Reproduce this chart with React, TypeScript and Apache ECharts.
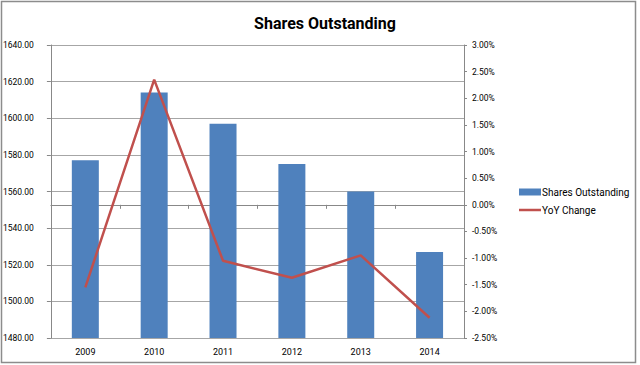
import React, { useEffect, useRef } from "react";
import * as echarts from "echarts";

const categories = ["2009", "2010", "2011", "2012", "2013", "2014"];
const sharesOutstanding = [1577, 1614, 1597, 1575, 1560, 1527];
const yoyChange = [-1.55, 2.35, -1.05, -1.37, -0.95, -2.12];

export default function App() {
  const ref = useRef<HTMLDivElement>(null);
  useEffect(() => {
    const chart = echarts.init(ref.current!, null, { renderer: "svg" });
    const font = "Roboto";
    chart.setOption({
      animation: false,
      backgroundColor: "#ffffff",
      textStyle: { fontFamily: font },
      title: {
        text: "Shares Outstanding",
        left: 320,
        top: 10,
        textAlign: "center",
        textStyle: { fontFamily: font, fontSize: 16, fontWeight: "bold", color: "#000000" },
      },
      graphic: [
        {
          type: "rect",
          shape: { x: 1.5, y: 1.5, width: 634, height: 361 },
          style: { fill: "none", stroke: "#8c8c8c", lineWidth: 1.5 },
          silent: true,
        },
      ],
      legend: {
        orient: "vertical",
        left: 514,
        top: 182,
        itemGap: 8,
        itemWidth: 22,
        itemHeight: 7,
        textStyle: { fontFamily: font, fontSize: 10, color: "#000000", padding: [0, 0, 0, -4] },
        data: [
          { name: "Shares Outstanding", icon: "rect" },
          { name: "YoY Change", icon: "path://M0,0L22,0L22,2.5L0,2.5Z", itemStyle: { color: "#c0504d" } },
        ],
      },
      grid: { left: 50, right: 176, top: 45, bottom: 27, containLabel: false },
      xAxis: {
        type: "category",
        data: categories,
        axisLine: { lineStyle: { color: "#888888" } },
        axisTick: { show: true, length: 4, alignWithLabel: false, lineStyle: { color: "#888888" } },
        axisLabel: { color: "#000000", fontSize: 9, margin: 9, fontFamily: font },
      },
      yAxis: [
        {
          type: "value",
          min: 1480,
          max: 1640,
          interval: 20,
          axisLine: { show: true, lineStyle: { color: "#888888" } },
          axisTick: { show: true, length: 4, lineStyle: { color: "#888888" } },
          axisLabel: {
            color: "#000000",
            fontSize: 8.5,
            margin: 17,
            fontFamily: font,
            formatter: (v: number) => v.toFixed(2),
          },
          splitLine: { show: true, lineStyle: { color: "#a6a6a6" } },
        },
        {
          type: "value",
          min: -2.5,
          max: 3,
          interval: 0.5,
          position: "right",
          axisLine: { show: true, lineStyle: { color: "#888888" } },
          axisTick: { show: true, length: 3, lineStyle: { color: "#888888" } },
          axisLabel: {
            color: "#000000",
            fontSize: 8.5,
            margin: 8,
            fontFamily: font,
            formatter: (v: number) => v.toFixed(2) + "%",
          },
          splitLine: { show: false },
        },
      ],
      series: [
        {
          name: "Shares Outstanding",
          type: "bar",
          data: sharesOutstanding,
          barWidth: 27,
          itemStyle: { color: "#4f81bd" },
          yAxisIndex: 0,
        },
        {
          name: "YoY Change",
          type: "line",
          data: yoyChange,
          yAxisIndex: 1,
          symbol: "none",
          lineStyle: { color: "#c0504d", width: 2.5 },
          itemStyle: { color: "#c0504d" },
        },
      ],
    });
    return () => chart.dispose();
  }, []);
  return (
    <div
      ref={ref}
      style={{ position: "absolute", left: 0, top: 0, width: 640, height: 365 }}
    />
  );
}
